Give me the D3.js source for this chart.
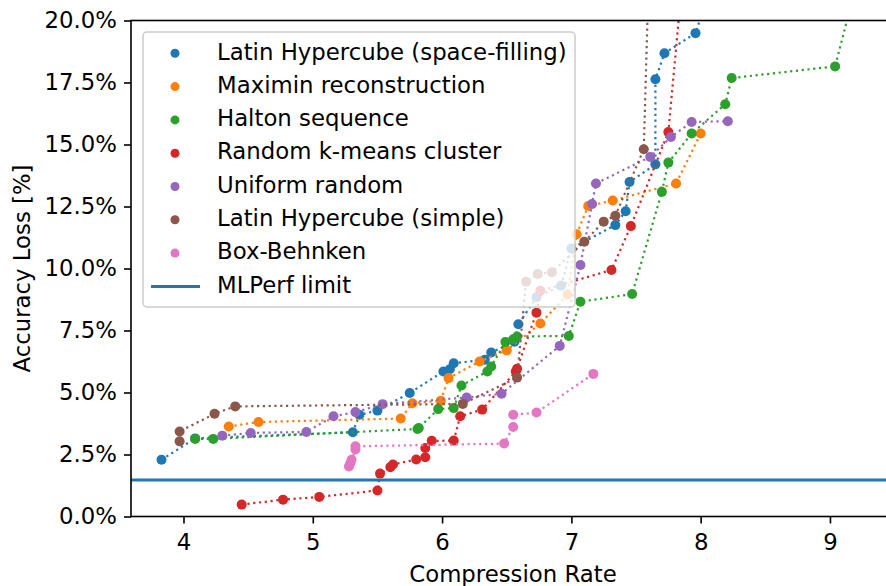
<!DOCTYPE html>
<html><head><meta charset="utf-8">
<script src="https://cdn.jsdelivr.net/npm/d3@7"></script>
<style>body{margin:0;background:#fff}svg{display:block}</style>
</head><body>
<svg id="chart" width="886" height="586"></svg>
<script>
const seriesNames = ["Latin Hypercube (space-filling)","Maximin reconstruction","Halton sequence","Random k-means cluster","Uniform random","Latin Hypercube (simple)","Box-Behnken"];
const seriesColors = ["#1f77b4","#ff7f0e","#2ca02c","#d62728","#9467bd","#8c564b","#e377c2"];

const lhsSpaceX = [3.83,4.09,5.31,5.36,5.50,5.75,6.01,6.06,6.09,6.33,6.38,6.56,6.59,6.73,6.92,7.00,7.34,7.42,7.45,7.65,7.65,7.72,7.96,8.12];
const lhsSpaceY = [2.29,3.15,3.40,4.10,4.27,4.98,5.85,5.94,6.18,6.32,6.61,7.05,7.75,8.84,9.31,10.81,11.75,12.31,13.49,14.20,17.63,18.68,19.49,22.0];
const maximinX = [4.35,4.58,5.68,5.77,5.99,6.05,6.29,6.50,6.76,6.97,7.04,7.13,7.32,7.81,8.00];
const maximinY = [3.63,3.81,3.95,4.57,4.67,5.58,6.25,6.70,7.78,8.95,11.38,12.52,12.74,13.43,15.44];
const haltonX = [4.09,4.23,5.81,5.82,5.97,6.09,6.15,6.35,6.38,6.49,6.55,6.58,6.98,7.07,7.47,7.70,7.75,7.93,8.19,8.24,9.04,9.23];
const haltonY = [3.13,3.13,3.53,3.57,4.33,4.37,5.28,5.85,6.05,7.04,7.15,7.26,7.28,8.66,8.97,13.09,14.27,15.44,16.62,17.68,18.15,22.0];
const kmeansX = [4.45,4.77,5.05,5.50,5.52,5.60,5.62,5.80,5.87,5.87,5.92,6.09,6.14,6.31,6.57,6.58,6.73,6.76,7.31,7.46,7.75,7.90];
const kmeansY = [0.48,0.68,0.79,1.05,1.73,1.99,2.10,2.30,2.39,2.76,3.05,3.06,4.04,4.31,5.85,5.96,8.22,9.10,9.94,11.71,15.50,24.0];
const uniformX = [4.30,4.52,4.95,5.16,5.33,5.54,6.19,6.46,6.91,7.07,7.16,7.19,7.61,7.77,7.93,8.21];
const uniformY = [3.26,3.37,3.41,4.04,4.21,4.53,4.80,4.95,6.88,10.14,12.60,13.43,14.50,15.30,15.91,15.94];
const lhsSimpleX = [3.97,3.97,4.24,4.40,6.16,6.58,6.65,6.74,6.85,7.10,7.25,7.34,7.56,7.61];
const lhsSimpleY = [3.03,3.43,4.14,4.44,4.54,5.60,9.47,9.78,9.85,11.08,11.89,12.13,14.81,24.0];
const boxBehnkenX = [5.28,5.29,5.30,5.33,5.33,6.48,6.55,6.55,6.73,7.17];
const boxBehnkenY = [2.02,2.15,2.29,2.70,2.83,2.94,3.61,4.10,4.19,5.75];

const mlperfLimit = 1.47;
const mlperfLabel = "MLPerf limit";
const xTicks = [4,5,6,7,8,9];
const yTicks = [0,2.5,5,7.5,10,12.5,15,17.5,20];
const yTickLabels = ["0.0%","2.5%","5.0%","7.5%","10.0%","12.5%","15.0%","17.5%","20.0%"];
const xLabel = "Compression Rate";
const yLabel = "Accuracy Loss [%]";

const seriesX = [lhsSpaceX, maximinX, haltonX, kmeansX, uniformX, lhsSimpleX, boxBehnkenX];
const seriesY = [lhsSpaceY, maximinY, haltonY, kmeansY, uniformY, lhsSimpleY, boxBehnkenY];

const L = 131, R = 895, T = 20.5, B = 516.5;
const FONT = "DejaVu Sans";
const FS = 22.8;
const x = d3.scaleLinear().domain([3.594, 9.503]).range([L, R]);
const y = d3.scaleLinear().domain([0, 20]).range([B, T]);

const svg = d3.select("#chart");
svg.append("defs").append("clipPath").attr("id","clip")
  .append("rect").attr("x",L).attr("y",T).attr("width",R-L).attr("height",B-T);

const plot = svg.append("g").attr("clip-path","url(#clip)");

seriesNames.forEach((name, i) => {
  const pts = seriesX[i].map((v, j) => [v, seriesY[i][j]]);
  const g = plot.append("g");
  g.selectAll("circle").data(pts.filter(p => p[1] <= 20)).enter().append("circle")
    .attr("cx", d => x(d[0])).attr("cy", d => y(d[1])).attr("r", 5)
    .attr("fill", seriesColors[i]);
  g.append("path").datum(pts)
    .attr("d", d3.line().x(d => x(d[0])).y(d => y(d[1])))
    .attr("fill","none").attr("stroke", seriesColors[i])
    .attr("stroke-width", 2.2).attr("stroke-dasharray","2.2,3.6");
});

plot.append("line").attr("x1",L).attr("x2",R)
  .attr("y1",y(mlperfLimit)).attr("y2",y(mlperfLimit))
  .attr("stroke","#1f77b4").attr("stroke-width",3);

// axes
const xAxis = svg.append("g").attr("transform",`translate(0,${B})`)
  .call(d3.axisBottom(x).tickValues(xTicks).tickFormat(d3.format("d")).tickSize(7).tickSizeOuter(0).tickPadding(10.5));
const yAxis = svg.append("g").attr("transform",`translate(${L},0)`)
  .call(d3.axisLeft(y).tickValues(yTicks).tickFormat((d,i)=>yTickLabels[i]).tickSize(7).tickSizeOuter(0).tickPadding(7));
[xAxis, yAxis].forEach(a => {
  a.selectAll("text").attr("font-family",FONT).attr("font-size",FS).attr("fill","#000");
  a.selectAll("line").attr("stroke","#000").attr("stroke-width",1.6);
  a.select(".domain").remove();
});
// spines
svg.append("rect").attr("x",L).attr("y",T).attr("width",R-L).attr("height",B-T)
  .attr("fill","none").attr("stroke","#000").attr("stroke-width",1.6);

svg.append("text").attr("x",(L+R)/2).attr("y",581.5).attr("text-anchor","middle")
  .attr("font-family",FONT).attr("font-size",FS).text(xLabel);
svg.append("text").attr("transform",`translate(30,${(T+B)/2}) rotate(-90)`).attr("text-anchor","middle")
  .attr("font-family",FONT).attr("font-size",FS).text(yLabel);

// legend
const lg = svg.append("g");
lg.append("rect").attr("x",143).attr("y",32).attr("width",432).attr("height",275).attr("rx",4)
  .attr("fill","rgba(255,255,255,0.8)").attr("stroke","#cccccc").attr("stroke-width",1.5);
const rowH = 33.3, base0 = 59.5;
seriesNames.forEach((name, i) => {
  const by = base0 + i*rowH;
  lg.append("circle").attr("cx",175).attr("cy",by-6.2).attr("r",4.5).attr("fill",seriesColors[i]);
  lg.append("text").attr("x",217).attr("y",by).attr("font-family",FONT).attr("font-size",FS).text(name);
});
{
  const by = base0 + 7*rowH;
  lg.append("line").attr("x1",151).attr("x2",200).attr("y1",by-6.2).attr("y2",by-6.2)
    .attr("stroke","#1f77b4").attr("stroke-width",3);
  lg.append("text").attr("x",217).attr("y",by).attr("font-family",FONT).attr("font-size",FS).text(mlperfLabel);
}
</script>
</body></html>
